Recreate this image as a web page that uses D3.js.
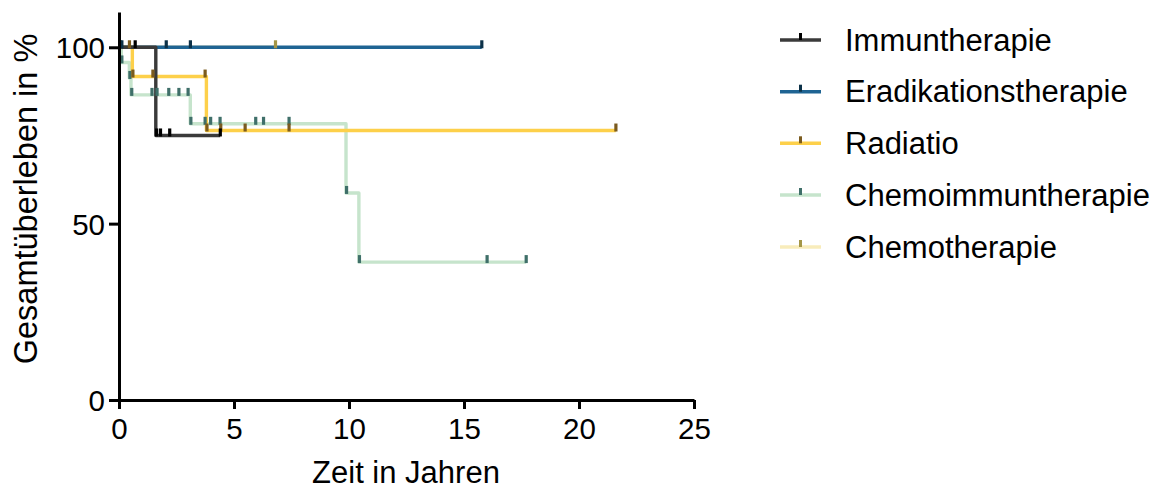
<!DOCTYPE html>
<html>
<head>
<meta charset="utf-8">
<script src="https://cdn.jsdelivr.net/npm/d3@7"></script>
<style>
  body { margin: 0; background: #fff; }
  text { font-family: "Liberation Sans", Arial, sans-serif; fill: #000; }
</style>
</head>
<body>
<svg id="chart" width="1154" height="492"></svg>
<script>
// Kaplan–Meier overall survival by therapy group.
// Steps: [time in years, survival in % from that time on]; end = last follow-up.
const seriesNames = ["Immuntherapie", "Eradikationstherapie", "Radiatio", "Chemoimmuntherapie", "Chemotherapie"];

const immunSteps = [[0, 100], [1.6, 75]];
const immunEnd = 4.4;
const immunCensored = [0.7, 1.63, 1.8, 2.2, 4.4];

const eradSteps = [[0, 100]];
const eradEnd = 15.77;
const eradCensored = [0.12, 2.05, 3.1, 15.77];

const radSteps = [[0, 100], [0.58, 91.7], [3.8, 76.4]];
const radEnd = 21.6;
const radCensored = [0.45, 0.6, 1.47, 3.74, 3.82, 4.42, 5.48, 7.39, 21.6];

const chemoImmunSteps = [[0, 100], [0.1, 95.7], [0.45, 91.3], [0.52, 86.5], [3.1, 78.3], [9.87, 58.7], [10.43, 39.1]];
const chemoImmunEnd = 17.7;
const chemoImmunCensored = [0.06, 0.12, 0.47, 0.55, 1.43, 1.65, 2.16, 2.6, 3.0, 3.12, 3.74, 3.98, 4.39, 5.94, 6.28, 7.39, 9.89, 10.45, 16.0, 17.7];

const chemoSteps = [[0, 100]];
const chemoEnd = 6.8;
const chemoCensored = [6.8];

const xTicks = [0, 5, 10, 15, 20, 25];
const yTicks = [0, 50, 100];

const lineColors = ["#3a3a3a", "#1f6493", "#fdd04a", "#c6e4cc", "#f8ecbb"];
const tickColors = ["#000000", "#0c3148", "#7b5b1e", "#3f6f69", "#a49646"];

const groups = [
  { name: seriesNames[0], steps: immunSteps, end: immunEnd, censored: immunCensored, line: lineColors[0], tick: tickColors[0] },
  { name: seriesNames[1], steps: eradSteps, end: eradEnd, censored: eradCensored, line: lineColors[1], tick: tickColors[1] },
  { name: seriesNames[2], steps: radSteps, end: radEnd, censored: radCensored, line: lineColors[2], tick: tickColors[2] },
  { name: seriesNames[3], steps: chemoImmunSteps, end: chemoImmunEnd, censored: chemoImmunCensored, line: lineColors[3], tick: tickColors[3] },
  { name: seriesNames[4], steps: chemoSteps, end: chemoEnd, censored: chemoCensored, line: lineColors[4], tick: tickColors[4] }
];

const svg = d3.select("#chart");
const x = d3.scaleLinear().domain([0, 25]).range([119, 694]);
const y = d3.scaleLinear().domain([0, 110]).range([400, 12]);

// survival value at time t (right-continuous step function)
function survivalAt(steps, t) {
  let v = steps[0][1];
  for (const [st, sv] of steps) if (t >= st) v = sv;
  return v;
}

const line = d3.line().x(d => x(d[0])).y(d => y(d[1])).curve(d3.curveStepAfter);

// draw order: palest curves underneath, darker ones on top
const drawOrder = [4, 3, 2, 1, 0];
const plot = svg.append("g");
drawOrder.forEach(i => {
  const g = groups[i];
  const pts = g.steps.concat([[g.end, g.steps[g.steps.length - 1][1]]]);
  plot.append("path")
    .attr("d", line(pts))
    .attr("fill", "none")
    .attr("stroke", g.line)
    .attr("stroke-width", 3.4)
    .attr("stroke-linejoin", "round");
});
drawOrder.forEach(i => {
  const g = groups[i];
  plot.selectAll(null).data(g.censored).enter().append("rect")
    .attr("x", d => x(d) - 1.5)
    .attr("y", d => y(survivalAt(g.steps, d)) - 7)
    .attr("width", 3.2)
    .attr("height", 8)
    .attr("fill", g.tick);
});

// axes
const xAxis = svg.append("g").attr("transform", "translate(0,400)")
  .call(d3.axisBottom(x).tickValues(xTicks).tickSize(9).tickSizeOuter(0).tickPadding(9));
const yAxis = svg.append("g").attr("transform", "translate(119,0)")
  .call(d3.axisLeft(y).tickValues(yTicks).tickSize(10).tickSizeOuter(0).tickPadding(4));
[xAxis, yAxis].forEach(a => {
  a.select(".domain").attr("stroke", "#000").attr("stroke-width", 3);
  a.selectAll(".tick line").attr("stroke", "#000").attr("stroke-width", 3);
  a.selectAll(".tick text").attr("font-size", 29.5).attr("fill", "#000")
    .style("font-family", '"Liberation Sans", Arial, sans-serif');
});
yAxis.selectAll(".tick text").attr("dy", "0.36em");

// axis titles
svg.append("text")
  .attr("x", 406).attr("y", 483)
  .attr("text-anchor", "middle")
  .attr("font-size", 31)
  .text("Zeit in Jahren");
svg.append("text")
  .attr("transform", "translate(37,199) rotate(-90)")
  .attr("text-anchor", "middle")
  .attr("font-size", 32.5)
  .text("Gesamtüberleben in %");

// legend
const legendY = [40, 91.7, 143.3, 195, 247];
const legend = svg.append("g");
groups.forEach((g, i) => {
  const ly = legendY[i];
  legend.append("line")
    .attr("x1", 780).attr("x2", 821).attr("y1", ly).attr("y2", ly)
    .attr("stroke", g.line).attr("stroke-width", 3.4);
  legend.append("rect")
    .attr("x", 799).attr("y", ly - 7).attr("width", 3).attr("height", 7)
    .attr("fill", g.tick);
  legend.append("text")
    .attr("x", 845).attr("y", ly + 10.5)
    .attr("font-size", 31)
    .text(g.name);
});
</script>
</body>
</html>
